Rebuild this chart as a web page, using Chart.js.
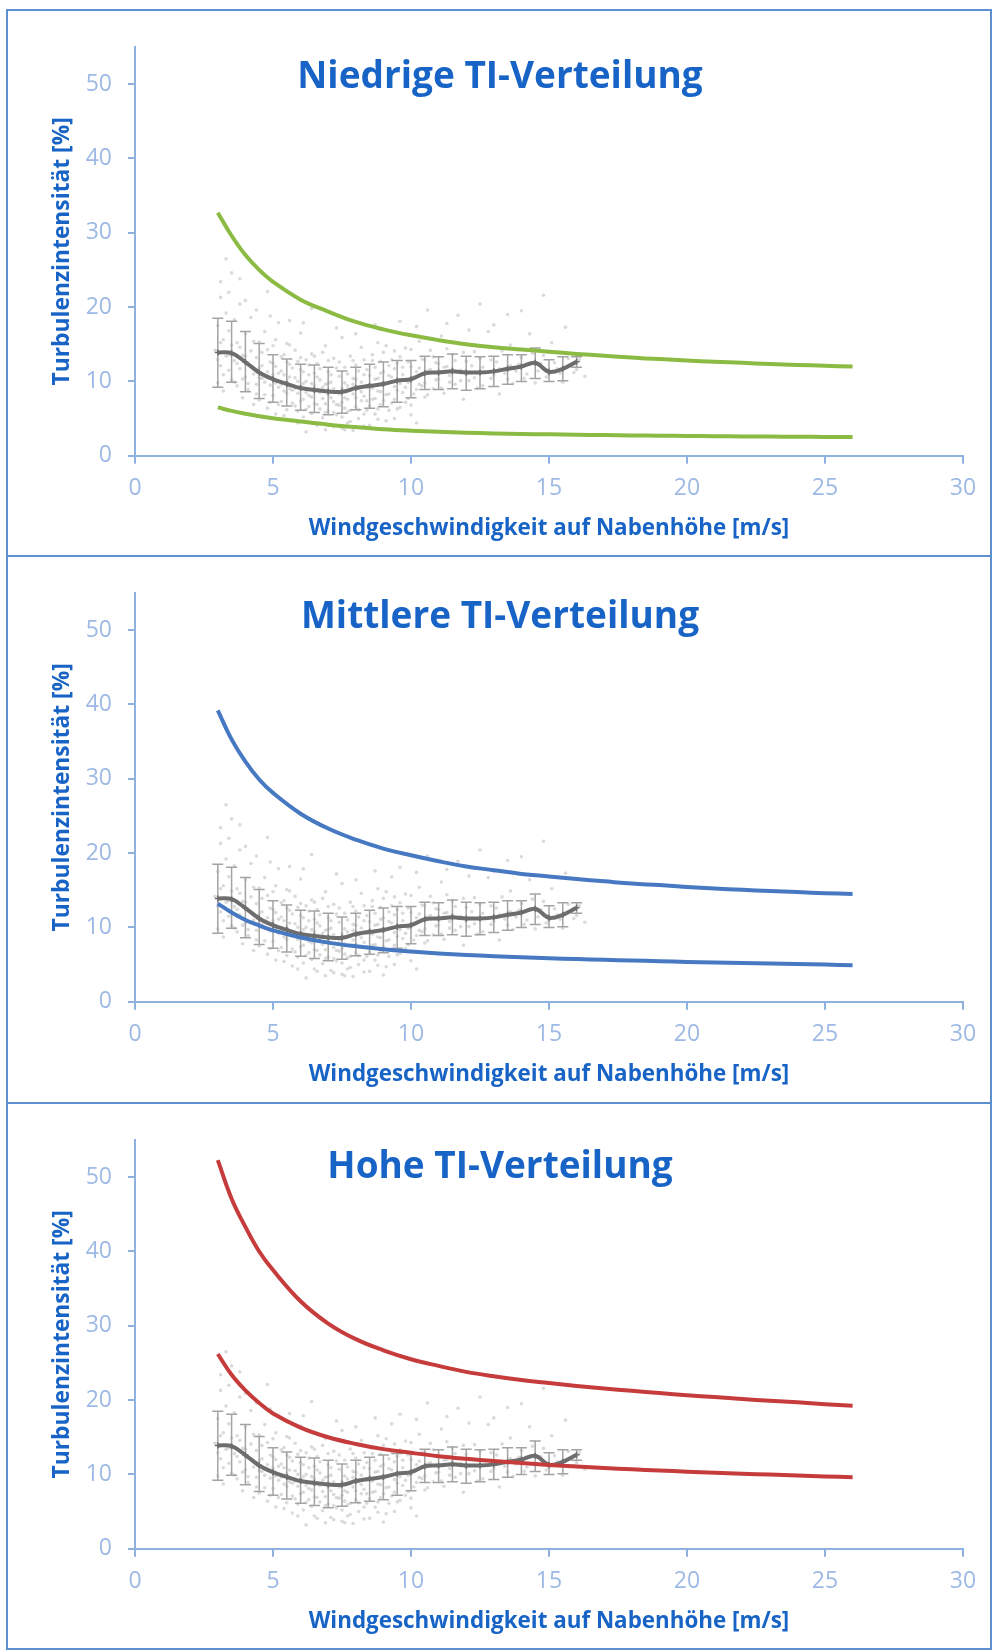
<!DOCTYPE html>
<html><head><meta charset="utf-8">
<script src="https://cdn.jsdelivr.net/npm/chart.js@4.4.1/dist/chart.umd.min.js"></script>
<style>
html,body{margin:0;padding:0;background:#fff;}
body{width:994px;height:1651px;position:relative;overflow:hidden;}
#frame{position:absolute;left:6px;top:9px;width:986px;height:1641px;border:2px solid #5d8fd3;box-sizing:border-box;}
.divider{position:absolute;left:6px;width:986px;height:2px;background:#5d8fd3;}
.panel{position:absolute;left:8px;width:982px;height:544px;}
.panel canvas{display:block;}
</style></head><body>
<div id="frame"></div>
<div class="divider" style="top:555px"></div>
<div class="divider" style="top:1102px"></div>
<div class="panel" style="top:11px"><canvas id="c1" width="982" height="544"></canvas></div>
<div class="panel" style="top:557px"><canvas id="c2" width="982" height="544"></canvas></div>
<div class="panel" style="top:1104px"><canvas id="c3" width="982" height="544"></canvas></div>
<script>
// ---------- DATA ----------
const panelTitles = ['Niedrige TI-Verteilung', 'Mittlere TI-Verteilung', 'Hohe TI-Verteilung'];
const xAxisTitle = 'Windgeschwindigkeit auf Nabenhöhe [m/s]';
const yAxisTitle = 'Turbulenzintensität [%]';

// wind speed bins of the measured mean / std error bars
const windBins = [3,3.5,4,4.5,5,5.5,6,6.5,7,7.5,8,8.5,9,9.5,10,10.5,11,11.5,12,12.5,13,13.5,14,14.5,15,15.5,16];
const meanTI = [13.9,13.8,12.6,11.2,10.3,9.65,9.1,8.85,8.65,8.6,9.1,9.4,9.65,10.1,10.3,11.1,11.2,11.35,11.2,11.2,11.35,11.7,12.0,12.5,11.3,11.7,12.65];
const highTI = [18.5,18.1,16.7,15.1,13.6,13.0,12.3,12.2,11.9,11.4,11.9,12.3,12.6,12.8,12.8,13.4,13.3,13.7,13.4,13.3,13.4,13.6,13.6,14.5,12.9,13.3,13.3];
const lowTI  = [9.2,9.9,8.6,7.7,7.2,6.7,6.1,5.8,5.5,5.7,6.2,6.4,6.6,7.2,7.8,8.9,8.9,9.0,8.8,9.0,9.3,9.6,10.0,10.4,10.0,10.1,11.9];

// reference curves (x grid and values)
const curveX = [3,3.5,4,4.5,5,6,7,8,9,10,11,12,13,14,15,16,17,18,19,20,21,22,23,24,25,26];
const lowUpper  = [32.7,29.6,27.0,25.0,23.4,21.0,19.4,18.0,17.0,16.2,15.55,15.0,14.6,14.3,14.0,13.7,13.45,13.2,13.0,12.8,12.65,12.5,12.35,12.22,12.1,12.0];
const lowLower  = [6.5,6.03,5.65,5.32,5.05,4.6,4.18,3.85,3.56,3.36,3.21,3.09,3.0,2.93,2.87,2.82,2.77,2.73,2.69,2.66,2.63,2.6,2.57,2.55,2.52,2.5];
const midUpper  = [39.2,35.3,32.3,29.9,28.1,25.3,23.3,21.8,20.6,19.7,18.9,18.2,17.7,17.2,16.85,16.5,16.2,15.9,15.7,15.45,15.25,15.05,14.9,14.75,14.6,14.5];
const midLower  = [13.2,12.0,11.0,10.25,9.6,8.65,7.95,7.45,7.05,6.75,6.5,6.3,6.13,5.98,5.85,5.74,5.63,5.54,5.45,5.35,5.27,5.2,5.13,5.06,4.99,4.92];
const highUpper = [52.3,47.1,43.3,40.0,37.5,33.3,30.3,28.2,26.7,25.5,24.6,23.8,23.2,22.7,22.3,21.9,21.55,21.25,20.95,20.65,20.4,20.15,19.9,19.7,19.45,19.25];
const highLower = [26.2,23.4,21.3,19.6,18.2,16.3,15.0,14.1,13.4,12.9,12.45,12.1,11.8,11.52,11.28,11.06,10.86,10.68,10.52,10.37,10.23,10.1,9.97,9.85,9.73,9.62];

// measured 10-min samples (scatter cloud), [wind speed, TI]
const cloudPoints = [
[2.9,14.2],[3.0,9.8],[3.0,17.5],[3.1,12.1],[3.1,21.3],[3.2,15.6],[3.2,8.7],[3.3,13.4],[3.3,19.2],[3.4,11.5],[3.4,16.8],[3.5,10.2],[3.5,14.9],[3.5,24.6],[3.6,12.8],[3.6,18.3],[3.3,26.5],
[3.7,9.4],[3.7,15.2],[3.8,11.7],[3.8,20.4],[3.9,13.5],[3.9,7.8],[4.0,10.6],[4.0,16.4],[4.1,12.2],[4.1,8.9],[4.2,14.1],[4.2,18.6],[4.3,11.0],[4.3,6.9],[4.4,13.2],[4.4,9.6],[4.5,15.3],[4.5,11.8],[4.5,7.5],
[4.6,10.4],[4.6,13.9],[4.7,8.2],[4.7,16.7],[4.8,11.3],[4.8,6.4],[4.8,22.1],[4.9,9.5],[4.9,12.6],[5.0,14.8],[5.0,8.1],[5.0,10.9],[5.1,5.6],[5.1,12.0],[5.2,9.2],[5.2,17.9],[5.3,7.3],[5.3,11.4],[5.4,13.6],[5.4,8.7],[5.5,10.1],[5.5,6.2],[5.5,15.1],
[5.6,9.0],[5.6,12.3],[5.7,7.1],[5.7,4.8],[5.8,10.5],[5.8,14.2],[5.9,8.4],[5.9,6.0],[6.0,11.6],[6.0,9.3],[6.0,16.5],[6.1,7.6],[6.1,5.2],[6.2,10.0],[6.2,12.9],[6.2,3.2],[6.3,8.1],[6.3,6.6],[6.4,9.7],[6.4,13.7],[6.4,19.8],[6.5,7.0],[6.5,4.4],[6.5,11.1],
[6.6,8.9],[6.6,12.4],[6.7,6.3],[6.7,10.2],[6.8,5.1],[6.8,7.7],[6.9,9.6],[6.9,14.8],[7.0,8.2],[7.0,6.0],[7.0,11.3],[7.1,4.2],[7.1,9.9],[7.2,7.3],[7.2,13.1],[7.3,5.5],[7.3,8.6],[7.4,10.7],[7.4,6.8],[7.5,3.7],[7.5,9.1],[7.5,15.9],
[7.6,7.8],[7.6,11.9],[7.7,5.9],[7.7,9.4],[7.8,4.6],[7.8,13.4],[7.9,8.3],[7.9,10.4],[7.9,3.4],[8.0,6.6],[8.0,12.2],[8.1,9.0],[8.1,5.0],[8.2,7.4],[8.2,14.6],[8.3,10.9],[8.3,8.0],[8.4,6.1],[8.4,11.6],[8.5,9.5],[8.5,4.1],
[8.6,12.8],[8.6,7.6],[8.7,10.3],[8.7,5.6],[8.8,8.7],[8.8,15.2],[8.9,11.1],[8.9,6.9],[9.0,9.8],[9.0,13.9],[9.0,3.6],[9.1,8.2],[9.1,4.7],[9.2,10.8],[9.2,12.1],[9.3,7.1],[9.3,16.8],[9.4,9.3],[9.4,11.7],[9.5,6.3],[9.5,10.2],
[9.6,13.3],[9.7,8.5],[9.7,10.9],[9.8,7.2],[9.8,14.5],[9.9,9.9],[10.0,12.0],[10.0,6.8],[10.1,10.6],[10.2,8.9],[10.2,17.4],[10.2,4.4],[10.3,11.8],[10.4,9.4],[10.4,13.0],[10.5,7.9],
[10.6,11.4],[10.7,14.2],[10.8,9.0],[10.9,12.5],[11.0,10.3],[11.1,16.1],[11.2,8.4],[11.3,12.0],[11.4,10.8],[11.5,13.6],[11.6,9.6],[11.7,18.9],[11.8,11.5],[11.9,7.6],[12.0,12.7],
[12.1,10.1],[12.3,14.0],[12.4,9.1],[12.5,20.4],[12.6,11.9],[12.8,16.7],[12.9,10.4],[13.1,12.6],[13.2,8.3],[13.4,11.1],[13.6,14.9],[13.7,9.7],[13.9,12.3],[14.0,19.5],
[14.2,11.0],[14.4,13.8],[14.5,9.8],[14.7,12.4],[14.8,21.6],[14.9,10.6],[15.1,15.2],[15.3,11.7],[15.5,9.9],[15.6,17.3],[15.7,13.1],[15.9,11.2],[16.1,12.9],[16.3,10.7],
[4.6,12.1],[4.7,9.9],[4.8,14.3],[4.9,7.2],[5.0,12.4],[5.1,9.8],[5.1,15.6],[5.2,11.1],[5.2,6.9],[5.3,13.3],[5.3,9.6],[5.4,10.9],[5.4,5.4],[5.5,12.6],[5.5,8.4],[5.6,10.6],[5.6,14.9],[5.7,8.8],[5.7,11.8],[5.8,6.7],[5.8,9.1],[5.9,12.7],[5.9,10.0],
[6.0,7.4],[6.0,13.2],[6.1,9.7],[6.1,11.3],[6.2,6.2],[6.2,8.5],[6.3,10.9],[6.3,12.2],[6.4,7.9],[6.4,5.7],[6.5,9.4],[6.5,13.4],[6.6,10.6],[6.6,6.9],[6.7,8.5],[6.7,11.7],[6.8,9.2],[6.8,13.9],[6.9,7.0],[6.9,5.8],
[7.0,9.7],[7.0,12.8],[7.1,7.8],[7.1,10.9],[7.2,5.8],[7.2,9.0],[7.3,11.8],[7.3,6.9],[7.4,8.3],[7.4,12.6],[7.5,7.2],[7.5,5.2],[7.6,9.8],[7.6,6.4],[7.7,11.0],[7.7,7.6],[7.8,8.8],[7.8,6.1],[7.9,12.8],[7.9,9.6],
[8.0,7.8],[8.0,10.3],[8.1,6.2],[8.1,11.4],[8.2,8.6],[8.2,9.9],[8.3,5.6],[8.3,12.9],[8.4,7.4],[8.4,9.2],[8.5,10.8],[8.5,6.7],[8.6,9.1],[8.6,13.6],[8.7,7.7],[8.7,11.9],[8.8,6.3],[8.8,10.4],[8.9,8.6],[8.9,12.7],
[9.0,7.4],[9.0,11.3],[9.1,9.7],[9.1,14.8],[9.2,8.3],[9.2,6.1],[9.3,10.6],[9.3,12.9],[9.4,7.6],[9.4,14.1],[9.5,8.8],[9.5,12.4],[9.6,9.7],[9.6,6.5],[9.7,11.9],[9.8,9.2],[9.9,12.6],[9.9,7.7],
[10.0,10.1],[10.0,14.3],[10.1,8.3],[10.2,11.3],[10.3,9.6],[10.3,15.4],[10.4,11.0],[10.5,12.9],[10.5,9.8],[10.6,8.2],[10.7,11.6],[10.8,13.3],[10.9,10.2],[11.0,12.4],[11.1,9.1],[11.2,11.9],[11.3,14.4],[11.4,9.9],[11.5,11.7],[11.6,12.8],[11.8,10.1],[11.9,13.9],
[12.0,10.9],[12.2,12.1],[12.3,10.5],[12.5,13.1],[12.6,9.4],[12.7,11.2],[12.9,12.9],[13.0,10.8],[13.2,11.7],[13.3,14.1],[13.5,10.3],[13.6,12.1],[13.8,11.4],[14.0,13.2],[14.1,10.4],[14.3,12.3],[14.6,11.4],[14.8,13.5],[15.0,10.9],[15.2,12.5],[15.4,11.1],[15.8,12.2],[16.0,11.6],
[3.1,23.4],[3.4,22.0],[3.8,23.8],[4.0,20.9],[4.4,19.6],[4.9,18.8],[5.6,18.2],[6.1,17.9],[7.3,17.2],[8.0,16.4],[8.7,17.6],[9.6,18.1],[10.6,19.6],[11.3,17.8],[12.1,16.9],[13.0,17.6],[13.5,19.0],[14.3,16.4],
[3.0,12.9],[3.1,15.2],[3.2,10.9],[3.4,13.6],[3.6,9.9],[3.7,12.4],[3.8,14.6],[3.9,10.3],[4.0,13.4],[4.1,9.7],[4.2,12.0],[4.3,15.4],[4.4,8.3],[4.5,10.5],
[5.9,4.4],[6.6,4.1],[7.2,3.9],[7.7,4.4],[8.3,4.0],[8.8,4.9],[9.4,5.0],[10.0,5.5],[6.9,3.5],[7.6,3.5]
];

// ---------- STYLE ----------
const FONT = '"Open Sans", "DejaVu Sans", sans-serif';
const axisColor = '#8fb1e0';
const tickColor = '#9db9e4';
const titleColor = '#1763c6';
const meanColor = '#6d6d6d';
const barColor = '#a3a3a3';

const panelTitle = {
  id: 'panelTitle',
  afterDraw(chart, args, opts) {
    const ctx = chart.ctx;
    ctx.save();
    ctx.font = 'bold 37px ' + FONT;
    ctx.fillStyle = titleColor;
    ctx.textAlign = 'center';
    ctx.textBaseline = 'alphabetic';
    ctx.fillText(opts.text, opts.x, opts.y);
    ctx.restore();
  }
};

function makePanel(id, title, upper, lower, color, titleY) {
  const toXY = (xs, ys) => xs.map((x, i) => ({x: x, y: ys[i]}));
  const stems = [];
  windBins.forEach((x, i) => { stems.push({x: x, y: lowTI[i]}, {x: x, y: highTI[i]}, {x: x, y: null}); });
  const caps = toXY(windBins, highTI).concat(toXY(windBins, lowTI));
  const cloud = cloudPoints.map(p => ({x: p[0], y: p[1]}));

  new Chart(document.getElementById(id), {
    type: 'line',
    data: {
      datasets: [
        {data: toXY(curveX, upper), borderColor: color, borderWidth: 4, pointRadius: 0, tension: 0.4, fill: false, order: 0},
        {data: toXY(curveX, lower), borderColor: color, borderWidth: 4, pointRadius: 0, tension: 0.4, fill: false, order: 1},
        {data: toXY(windBins, meanTI), borderColor: meanColor, borderWidth: 4, tension: 0.35, pointStyle: 'cross', pointRadius: 3, pointBorderColor: meanColor, pointBorderWidth: 1.5, fill: false, order: 2},
        {data: caps, showLine: false, pointStyle: 'line', pointRadius: 5.5, pointBorderColor: barColor, pointBorderWidth: 1.5, order: 3},
        {data: stems, borderColor: barColor, borderWidth: 1.5, pointRadius: 0, tension: 0, spanGaps: false, fill: false, order: 4},
        {data: cloud, showLine: false, pointRadius: 1.8, pointBorderWidth: 0, pointBackgroundColor: 'rgba(140,140,140,0.32)', order: 5}
      ]
    },
    options: {
      responsive: false,
      animation: false,
      devicePixelRatio: 1,
      events: [],
      layout: {padding: {left: 40.7, right: 27, top: 36, bottom: 12.7}},
      plugins: {
        legend: {display: false},
        tooltip: {enabled: false},
        panelTitle: {text: title, x: 492, y: titleY}
      },
      scales: {
        x: {
          type: 'linear', min: 0, max: 30,
          ticks: {stepSize: 5, color: tickColor, font: {family: FONT, size: 23}, padding: 11, maxRotation: 0},
          grid: {drawOnChartArea: false, drawTicks: true, tickLength: 8, color: axisColor, lineWidth: 2},
          border: {display: true, color: axisColor, width: 2},
          title: {display: true, text: xAxisTitle, color: titleColor, font: {family: FONT, size: 22.4, weight: 'bold'}, padding: 0},
          afterFit(s) { s.height = 86.6; }
        },
        y: {
          type: 'linear', min: 0, max: 55,
          ticks: {stepSize: 10, includeBounds: false, color: tickColor, font: {family: FONT, size: 23}, padding: 16},
          grid: {drawOnChartArea: false, drawTicks: true, tickLength: 7, color: axisColor, lineWidth: 2},
          border: {display: true, color: axisColor, width: 2},
          title: {display: true, text: yAxisTitle, color: titleColor, font: {family: FONT, size: 22.8, weight: 'bold'}, padding: 0},
          afterFit(s) { s.width = 86.3; }
        }
      }
    },
    plugins: [panelTitle]
  });
}

makePanel('c1', panelTitles[0], lowUpper, lowLower, '#8cbb44', 77);
makePanel('c2', panelTitles[1], midUpper, midLower, '#4679c2', 71);
makePanel('c3', panelTitles[2], highUpper, highLower, '#c63c3c', 74);
</script>
</body></html>
